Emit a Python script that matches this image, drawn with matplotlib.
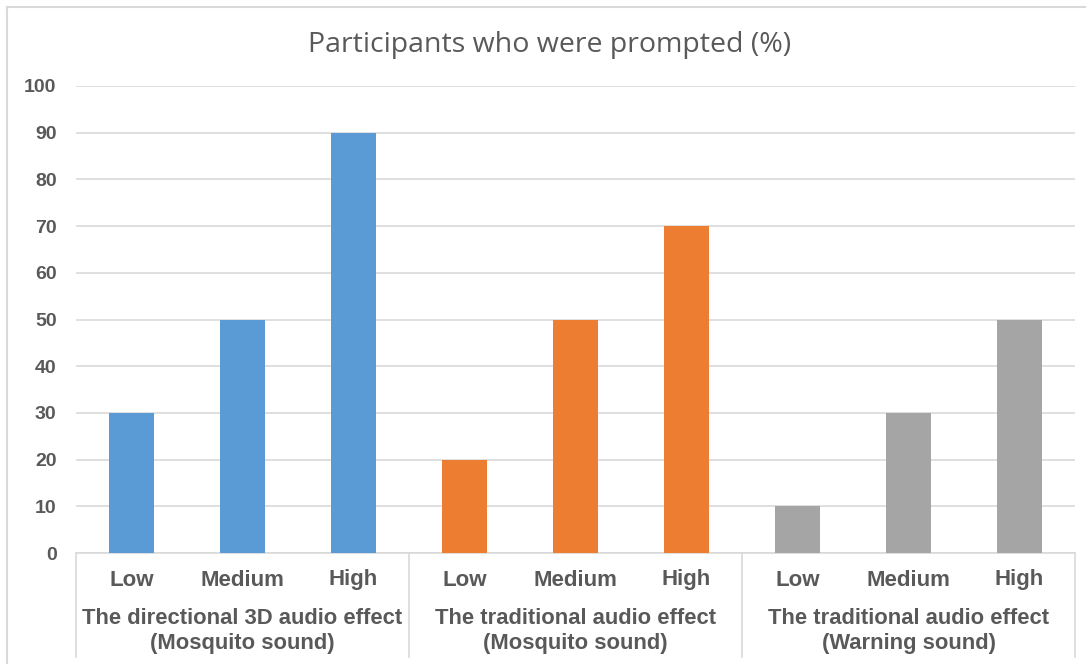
import matplotlib
matplotlib.use("Agg")
import matplotlib.pyplot as plt
from matplotlib.lines import Line2D
from matplotlib.transforms import blended_transform_factory

# Data
levels = ["Low", "Medium", "High"]
groups = [
    "The directional 3D audio effect\n(Mosquito sound)",
    "The traditional audio effect\n(Mosquito sound)",
    "The traditional audio effect\n(Warning sound)",
]
directional_mosquito = [30, 50, 90]
traditional_mosquito = [20, 50, 70]
traditional_warning = [10, 30, 50]
group_colors = ["#5B9BD5", "#ED7D31", "#A5A5A5"]
y_ticks = [0, 10, 20, 30, 40, 50, 60, 70, 80, 90, 100]
title = "Participants who were prompted (%)"

W, H = 1086, 664
fig = plt.figure(figsize=(W / 100, H / 100), dpi=100)
fig.patch.set_facecolor("white")

ax = fig.add_axes([76 / W, 1 - 553 / H, (1075 - 76) / W, (553 - 86) / H])

text_color = "#595959"
grid_color = "#D9D9D9"

series = [directional_mosquito, traditional_mosquito, traditional_warning]
for g, (vals, col) in enumerate(zip(series, group_colors)):
    xs = [g * 3 + i for i in range(len(vals))]
    ax.bar(xs, vals, width=0.4, color=col, zorder=3)

ax.set_xlim(-0.5, 8.5)
ax.set_ylim(0, 100)
ax.set_yticks(y_ticks)
ax.set_yticklabels([str(v) for v in y_ticks], fontsize=14, fontweight="bold",
                   color=text_color, family="Liberation Sans")
ax.tick_params(axis="y", length=0, pad=14)
ax.set_xticks([])
ax.grid(axis="y", color=grid_color, linewidth=1.2, zorder=0)
for s in ["top", "right", "left"]:
    ax.spines[s].set_visible(False)
ax.spines["bottom"].set_color(grid_color)
ax.spines["bottom"].set_linewidth(1.2)

trans = blended_transform_factory(ax.transData, ax.transAxes)
ax_h = 553 - 86

# Level labels and group captions of the two-level category axis
for g in range(len(groups)):
    for i, lv in enumerate(levels):
        ax.text(g * 3 + i, -(580 - 553) / ax_h, lv, transform=trans,
                ha="center", va="center", fontsize=16, fontweight="bold",
                color=text_color, family="Liberation Sans")
    ax.text(g * 3 + 1, -(631 - 553) / ax_h, groups[g], transform=trans,
            ha="center", va="center", fontsize=15.8, fontweight="bold",
            color=text_color, family="Liberation Sans", linespacing=1.3)

# Group separators
for xb in [-0.5, 2.5, 5.5, 8.5]:
    ax.add_line(Line2D([xb, xb], [0, -(657 - 553) / ax_h], transform=trans,
                       color=grid_color, linewidth=1.2, clip_on=False))

fig.text(550 / W, 1 - 45 / H, title, ha="center", va="center",
         fontsize=20.5, color=text_color, family="Open Sans")

# Chart frame
fig.add_artist(Line2D([7 / W, 7 / W], [0, 1 - 7 / H], transform=fig.transFigure,
                      color=grid_color, linewidth=1.5))
fig.add_artist(Line2D([7 / W, 1], [1 - 7 / H, 1 - 7 / H], transform=fig.transFigure,
                      color=grid_color, linewidth=1.5))

fig.savefig("out.png", dpi=100, facecolor="white")
